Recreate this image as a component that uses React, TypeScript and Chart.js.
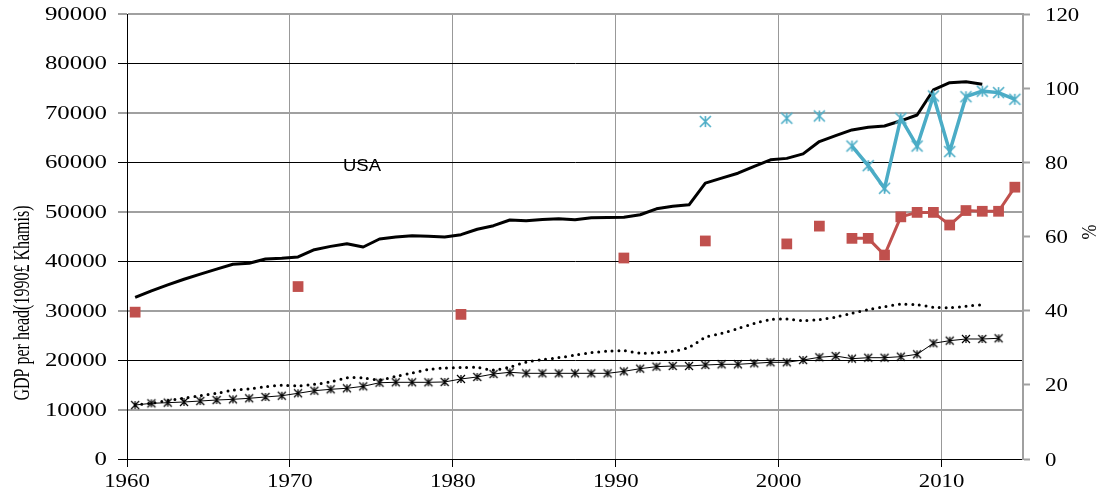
import React, { useEffect, useRef } from "react";
import { Chart, registerables } from "chart.js";

Chart.register(...registerables);

// ---------- data ----------
const years = [
  1960, 1961, 1962, 1963, 1964, 1965, 1966, 1967, 1968, 1969,
  1970, 1971, 1972, 1973, 1974, 1975, 1976, 1977, 1978, 1979,
  1980, 1981, 1982, 1983, 1984, 1985, 1986, 1987, 1988, 1989,
  1990, 1991, 1992, 1993, 1994, 1995, 1996, 1997, 1998, 1999,
  2000, 2001, 2002, 2003, 2004, 2005, 2006, 2007, 2008, 2009,
  2010, 2011, 2012, 2013, 2014,
];

// USA GDP per head (solid black), 1960-2012
const usaGdp = [
  32700, 34000, 35200, 36350, 37400, 38400, 39380, 39580, 40450, 40600,
  40860, 42330, 43000, 43550, 42880, 44500, 44900, 45160, 45050, 44900,
  45370, 46460, 47190, 48340, 48200, 48450, 48600, 48400, 48800, 48850,
  48900, 49400, 50600, 51100, 51400, 55800, 56800, 57800, 59200, 60500,
  60800, 61700, 64200, 65400, 66550, 67100, 67350, 68400, 69580, 74640,
  76100, 76300, 75800,
];

// second country (dotted black), 1960-2012
const dottedGdp = [
  10900, 11300, 11800, 12300, 12800, 13300, 13900, 14200, 14600, 14900,
  14800, 15100, 15600, 16400, 16400, 16000, 16700, 17400, 18100, 18400,
  18500, 18500, 18000, 18600, 19600, 20100, 20500, 21000, 21500, 21800,
  21900, 21400, 21500, 21800, 22600, 24600, 25400, 26400, 27400, 28200,
  28300, 28000, 28200, 28700, 29500, 30200, 30800, 31300, 31200, 30700,
  30600, 30900, 31200,
];

// third country (black line with asterisks), 1960-2013
const starGdp = [
  10920, 11260, 11390, 11530, 11730, 11930, 12070, 12280, 12540, 12800,
  13290, 13810, 14100, 14300, 14700, 15430, 15510, 15510, 15510, 15580,
  16180, 16590, 17190, 17540, 17330, 17330, 17330, 17330, 17330, 17330,
  17730, 18270, 18670, 18810, 18810, 19010, 19150, 19150, 19350, 19560,
  19560, 20020, 20570, 20830, 20290, 20490, 20490, 20700, 21180, 23400,
  23930, 24270, 24270, 24410,
];

// blue asterisks (% , right axis)
const bluePctYears = [1995, 2000, 2002, 2004, 2005, 2006, 2007, 2008, 2009, 2010, 2011, 2012, 2013, 2014];
const bluePct = [91.0, 91.9, 92.5, 84.4, 79.1, 73.0, 91.9, 84.4, 97.9, 82.9, 97.7, 99.2, 98.8, 97.0];

// red squares (% , right axis)
const redPctYears = [1960, 1970, 1980, 1990, 1995, 2000, 2002, 2004, 2005, 2006, 2007, 2008, 2009, 2010, 2011, 2012, 2013, 2014];
const redPct = [39.6, 46.5, 39.0, 54.2, 58.8, 58.0, 62.8, 59.5, 59.5, 55.0, 65.3, 66.5, 66.5, 63.1, 67.0, 66.8, 66.8, 73.3];

const xTickLabels = ["1960", "1970", "1980", "1990", "2000", "2010"];
const leftTickLabels = ["0", "10000", "20000", "30000", "40000", "50000", "60000", "70000", "80000", "90000"];
const rightTickLabels = ["0", "20", "40", "60", "80", "100", "120"];
const leftTitle = "GDP per head(1990£ Khamis)";
const rightTitle = "%";
const seriesNote = "USA";

// ---------- helpers ----------
const MID = 0.5; // points sit in the middle of each year slot

function toPoints(ys: number[], vals: (number | null)[]) {
  const pts: { x: number; y: number | null }[] = [];
  for (let i = 0; i < vals.length; i++) {
    if (i > 0 && ys[i] - ys[i - 1] > 1) pts.push({ x: ys[i - 1] + 1 + MID, y: null });
    pts.push({ x: ys[i] + MID, y: vals[i] });
  }
  return pts;
}

function asterisk(size: number, color: string, lw: number) {
  const c = document.createElement("canvas");
  const pad = Math.ceil(lw) + 1;
  c.width = size + pad * 2;
  c.height = size + pad * 2;
  const g = c.getContext("2d")!;
  const r = size / 2;
  const cx = c.width / 2;
  const cy = c.height / 2;
  g.strokeStyle = color;
  g.lineWidth = lw;
  g.beginPath();
  g.moveTo(cx - r, cy - r);
  g.lineTo(cx + r, cy + r);
  g.moveTo(cx - r, cy + r);
  g.lineTo(cx + r, cy - r);
  g.moveTo(cx, cy - r);
  g.lineTo(cx, cy + r);
  g.stroke();
  return c;
}

function stretchText(ctx: CanvasRenderingContext2D, text: string, x: number, y: number, sx: number) {
  ctx.save();
  ctx.translate(x, y);
  ctx.scale(sx, 1);
  ctx.fillText(text, 0, 0);
  ctx.restore();
}

const textPlugin = {
  id: "customText",
  afterDraw(chart: any) {
    const ctx: CanvasRenderingContext2D = chart.ctx;
    const sy = chart.scales.y;
    const sy2 = chart.scales.y2;
    const sxs = chart.scales.x;
    ctx.save();
    ctx.fillStyle = "#000";
    ctx.textBaseline = "alphabetic";

    // left tick labels
    ctx.font = '18px "Liberation Serif"';
    ctx.textAlign = "right";
    sy.ticks.forEach((t: any) => {
      stretchText(ctx, String(t.label), 107, sy.getPixelForValue(t.value) + 6, 1.38);
    });

    // right tick labels
    ctx.font = '19.5px "Liberation Serif"';
    ctx.textAlign = "left";
    sy2.ticks.forEach((t: any) => {
      stretchText(ctx, String(t.label), 1045, sy2.getPixelForValue(t.value) + 6.6, 1.17);
    });

    // bottom tick labels
    ctx.textAlign = "center";
    sxs.ticks.forEach((t: any) => {
      stretchText(ctx, String(t.label), sxs.getPixelForValue(t.value), 487, 1.17);
    });

    // left title
    ctx.save();
    ctx.font = '16px "Liberation Serif"';
    ctx.textAlign = "center";
    ctx.textBaseline = "middle";
    ctx.translate(23, 303);
    ctx.scale(1.38, 1);
    ctx.rotate(-Math.PI / 2);
    ctx.fillText(leftTitle, 0, 0);
    ctx.restore();

    // right title
    ctx.save();
    ctx.font = '18px "Liberation Serif"';
    ctx.textAlign = "center";
    ctx.textBaseline = "middle";
    ctx.translate(1090, 232);
    ctx.scale(1.17, 1);
    ctx.rotate(-Math.PI / 2);
    ctx.fillText(rightTitle, 0, 0);
    ctx.restore();

    // USA note
    ctx.font = '16.5px "Liberation Sans"';
    ctx.textAlign = "left";
    stretchText(ctx, seriesNote, 343, 171, 1.12);

    ctx.restore();
  },
};

const GRAY = "#a0a0a0";

export default function App() {
  const ref = useRef<HTMLCanvasElement | null>(null);

  useEffect(() => {
    if (!ref.current) return;
    const blueStar = asterisk(11, "#4BACC6", 1.6);
    const blackStar = asterisk(8, "#000000", 1.2);

    const chart = new Chart(ref.current, {
      type: "line",
      data: {
        datasets: [
          {
            data: toPoints(bluePctYears, bluePct),
            yAxisID: "y2",
            borderColor: "#4BACC6",
            backgroundColor: "#4BACC6",
            borderWidth: 3.5,
            pointStyle: blueStar as any,
            pointRadius: 6,
            spanGaps: false,
          },
          {
            data: toPoints(redPctYears, redPct),
            yAxisID: "y2",
            borderColor: "#C0504D",
            backgroundColor: "#C0504D",
            borderWidth: 3,
            pointStyle: "rect",
            pointRadius: 7.6,
            pointBorderWidth: 0,
            pointBorderColor: "#C0504D",
            spanGaps: false,
          },
          {
            data: toPoints(years.slice(0, starGdp.length), starGdp),
            yAxisID: "y",
            borderColor: "#000",
            backgroundColor: "#000",
            borderWidth: 1,
            pointStyle: blackStar as any,
            pointRadius: 4.5,
          },
          {
            data: toPoints(years.slice(0, dottedGdp.length), dottedGdp),
            yAxisID: "y",
            borderColor: "#000",
            borderWidth: 3,
            borderDash: [0, 6.7],
            borderCapStyle: "round",
            pointRadius: 0,
            tension: 0.3,
          },
          {
            data: toPoints(years.slice(0, usaGdp.length), usaGdp),
            yAxisID: "y",
            borderColor: "#000",
            borderWidth: 3,
            borderJoinStyle: "round",
            pointRadius: 0,
            tension: 0,
          },
        ],
      },
      options: {
        animation: false,
        responsive: false,
        devicePixelRatio: 1,
        layout: { padding: { top: 14, left: 0, right: 0, bottom: 0 } },
        plugins: { legend: { display: false }, tooltip: { enabled: false } },
        scales: {
          x: {
            type: "linear",
            min: 1960,
            max: 2015,
            afterBuildTicks: (scale: any) => {
              scale.ticks = scale.ticks.filter((t: any) => xTickLabels.includes(String(t.value)));
            },
            afterFit: (scale: any) => {
              scale.height = 34;
            },
            ticks: {
              stepSize: 10,
              display: false,
              callback: (v: any) => {
                const s = String(v);
                return xTickLabels.includes(s) ? s : "";
              },
            },
            grid: {
              color: (c: any) => (c.tick && c.tick.value === 1960 ? "rgba(0,0,0,0)" : "#999"),
              lineWidth: 1,
              drawTicks: true,
              tickLength: 8,
              tickColor: "#000",
              tickWidth: 1,
            },
            border: { display: true, color: "#000", width: 1 },
          },
          y: {
            type: "linear",
            position: "left",
            min: 0,
            max: 90000,
            afterFit: (scale: any) => {
              scale.width = 127;
            },
            ticks: {
              stepSize: 10000,
              display: false,
              callback: (v: any) => leftTickLabels[Math.round(Number(v) / 10000)] ?? "",
            },
            grid: {
              color: (c: any) => (Math.round(c.tick.value / 10000) % 2 === 1 ? GRAY : "#000"),
              lineWidth: (c: any) => (Math.round(c.tick.value / 10000) % 2 === 1 ? 2 : 1),
              tickColor: (c: any) => (Math.round(c.tick.value / 10000) % 2 === 1 ? GRAY : "#000"),
              tickWidth: (c: any) => (Math.round(c.tick.value / 10000) % 2 === 1 ? 2 : 1),
              tickLength: 9,
              drawTicks: true,
            },
            border: { display: true, color: "#000", width: 1 },
          },
          y2: {
            type: "linear",
            position: "right",
            min: 0,
            max: 120,
            afterFit: (scale: any) => {
              scale.width = 81;
            },
            ticks: {
              stepSize: 20,
              display: false,
              callback: (v: any) => rightTickLabels[Math.round(Number(v) / 20)] ?? "",
            },
            grid: {
              drawOnChartArea: false,
              drawTicks: true,
              tickLength: 7,
              tickColor: GRAY,
              tickWidth: 2,
              color: GRAY,
            },
            border: { display: true, color: GRAY, width: 2 },
          },
        },
      },
      plugins: [textPlugin],
    } as any);

    return () => chart.destroy();
  }, []);

  return (
    <div style={{ position: "absolute", left: 0, top: 0, width: 1104, height: 493, background: "#fff" }}>
      <canvas ref={ref} width={1104} height={493} style={{ display: "block", width: 1104, height: 493 }} />
    </div>
  );
}
